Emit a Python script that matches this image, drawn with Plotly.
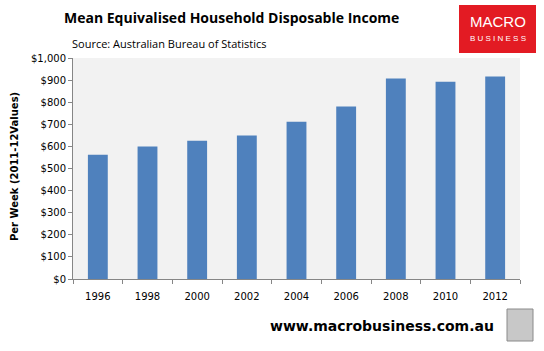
import plotly.graph_objects as go

years = ["1996", "1998", "2000", "2002", "2004", "2006", "2008", "2010", "2012"]
income = [562, 599, 626, 649, 712, 780, 907, 893, 916]
y_ticks = [0, 100, 200, 300, 400, 500, 600, 700, 800, 900, 1000]
y_tick_labels = ["$0", "$100", "$200", "$300", "$400", "$500", "$600", "$700", "$800", "$900", "$1,000"]

fig = go.Figure()
fig.add_trace(go.Bar(x=years, y=income, marker_color="#4f81bd", marker_line_width=0))

W, H = 544, 351
L, R, T, B = 73, 24, 58, 72
pw, ph = W - L - R, H - T - B

def px(x):
    return (x - L) / pw

def py(y):
    return (H - B - y) / ph

fig.update_layout(
    width=W, height=H,
    margin=dict(l=L, r=R, t=T, b=B),
    paper_bgcolor="white",
    plot_bgcolor="#f2f2f2",
    bargap=0.6,
    showlegend=False,
    font=dict(family="DejaVu Sans", size=10, color="black"),
)
fig.update_yaxes(
    range=[0, 1000], tickvals=y_ticks, ticktext=y_tick_labels,
    showgrid=False, zeroline=False, showline=True, linecolor="#868686", linewidth=1,
    ticks="outside", ticklen=4, tickcolor="#868686",
    tickfont=dict(family="DejaVu Sans", size=10),
)
fig.update_xaxes(
    type="category", showgrid=False, showline=True, linecolor="#868686", linewidth=1,
    ticks="outside", ticklen=4, tickcolor="#868686", tickson="boundaries",
    ticklabelstandoff=8,
    tickfont=dict(family="DejaVu Sans", size=10),
)

ann = []
ann.append(dict(text="<b>Mean Equivalised Household Disposable Income</b>", x=px(231), y=py(18),
                xref="paper", yref="paper", showarrow=False, xanchor="center", yanchor="middle",
                font=dict(family="Open Sans", size=14)))
ann.append(dict(text="Source: Australian Bureau of Statistics", x=px(70), y=py(43),
                xref="paper", yref="paper", showarrow=False, xanchor="left", yanchor="middle",
                font=dict(family="Open Sans", size=11)))
ann.append(dict(text="<b>Per Week (2011-12Values)</b>", x=px(14), y=py(167), textangle=-90,
                xref="paper", yref="paper", showarrow=False, xanchor="center", yanchor="middle",
                font=dict(family="DejaVu Sans", size=10)))
ann.append(dict(text="<b>www.macrobusiness.com.au</b>", x=px(381.5), y=py(326),
                xref="paper", yref="paper", showarrow=False, xanchor="center", yanchor="middle",
                font=dict(family="DejaVu Sans", size=14)))
ann.append(dict(text="MACRO", x=px(497.5), y=py(22),
                xref="paper", yref="paper", showarrow=False, xanchor="center", yanchor="middle",
                font=dict(family="Liberation Sans", size=15, color="white")))
ann.append(dict(text="B U S I N E S S", x=px(497.5), y=py(38),
                xref="paper", yref="paper", showarrow=False, xanchor="center", yanchor="middle",
                font=dict(family="Liberation Sans", size=8, color="white")))
fig.update_layout(annotations=ann)

fig.add_shape(type="rect", xref="paper", yref="paper", x0=px(459), x1=px(536), y0=py(53), y1=py(5),
              fillcolor="#e31b23", line_width=0, layer="below")
fig.add_shape(type="rect", xref="paper", yref="paper", x0=px(507), x1=px(533), y0=py(341), y1=py(309),
              fillcolor="#c8c8c8", line=dict(color="#8a8a8a", width=1))

fig.write_html("out.html")
